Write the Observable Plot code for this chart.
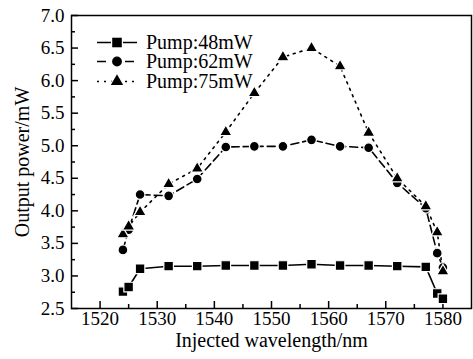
<!DOCTYPE html>
<html>
<head>
<meta charset="utf-8">
<script src="https://cdn.jsdelivr.net/npm/d3@7"></script>
<script src="https://cdn.jsdelivr.net/npm/@observablehq/plot@0.6"></script>
<style>
  body { margin: 0; background: #fff; }
  #wrap { position: relative; width: 473px; height: 359px; }
  #legend { position: absolute; left: 96px; top: 33px; font-family: "Liberation Serif", "Times New Roman", serif; font-size: 20px; color: #000; }
  .row { display: flex; align-items: center; height: 19.3px; }
  .row span { margin-left: 8px; line-height: 19px; display: inline-block; height: 19px; }
</style>
</head>
<body>
<div id="wrap">
  <div id="chart"></div>
  <div id="legend"></div>
</div>
<script>
const wavelengths = [1524, 1525, 1527, 1532, 1537, 1542, 1547, 1552, 1557, 1562, 1567, 1572, 1577, 1579, 1580];
const pump48 = [2.76, 2.83, 3.11, 3.15, 3.15, 3.16, 3.16, 3.16, 3.18, 3.16, 3.16, 3.15, 3.14, 2.73, 2.65];
const pump62 = [3.40, 3.71, 4.25, 4.23, 4.49, 4.98, 4.99, 4.99, 5.09, 4.99, 4.97, 4.43, 4.04, 3.35, 3.13];
const pump75 = [3.64, 3.76, 3.98, 4.41, 4.65, 5.21, 5.81, 6.36, 6.50, 6.22, 5.20, 4.50, 4.07, 3.67, 3.07];
const seriesNames = ["Pump:48mW", "Pump:62mW", "Pump:75mW"];
const xMajor = [1520, 1530, 1540, 1550, 1560, 1570, 1580];
const xMinor = [1525, 1535, 1545, 1555, 1565, 1575];
const yMajor = [2.5, 3.0, 3.5, 4.0, 4.5, 5.0, 5.5, 6.0, 6.5, 7.0];
const yMinor = [2.75, 3.25, 3.75, 4.25, 4.75, 5.25, 5.75, 6.25, 6.75];

const font = '"Liberation Serif", "Times New Roman", serif';
const W = 473, H = 359, mL = 71, mR = 2, mT = 15, mB = 51;
const plotW = W - mL - mR, plotH = H - mT - mB;

const styles = [
  {symbol: "square", r: 5.4, dash: null},
  {symbol: "circle", r: 4.9, dash: "8,4"},
  {symbol: "triangle", r: 4.6, dash: "2,5"}
];
const values = [pump48, pump62, pump75];
const tables = values.map((vals, i) => wavelengths.map((w, j) => ({w, v: vals[j], s: seriesNames[i]})));

const marks = [];
tables.forEach((t, i) => {
  marks.push(Plot.line(t, {x: "w", y: "v", stroke: "black", strokeWidth: 1.6, strokeDasharray: styles[i].dash}));
});
tables.forEach((t, i) => {
  marks.push(Plot.dot(t, {x: "w", y: "v", symbol: () => styles[i].symbol, r: styles[i].r, fill: "black", stroke: "white", strokeWidth: 1.2}));
});

const chart = Plot.plot({
  width: W, height: H,
  marginLeft: mL, marginRight: mR, marginTop: mT, marginBottom: mB,
  style: {fontFamily: font, background: "white", color: "black"},
  x: {domain: [1515, 1585]},
  y: {domain: [2.5, 7.0]},
  symbol: {domain: ["square", "circle", "triangle"], range: ["square", "circle", "triangle"]},
  marks: [
    Plot.axisX(xMajor, {tickSize: 0, tickPadding: 3, fontSize: 19, label: null, tickFormat: d => String(d)}),
    Plot.axisY(yMajor, {tickSize: 0, tickPadding: 7, fontSize: 19, label: null, tickFormat: d => d.toFixed(1)}),
    Plot.ruleX(xMajor, {x: d => d, stroke: "black", strokeWidth: 1.5, insetTop: plotH - 7}),
    Plot.ruleX(xMinor, {x: d => d, stroke: "black", strokeWidth: 1.5, insetTop: plotH - 4}),
    Plot.ruleY(yMajor, {y: d => d, stroke: "black", strokeWidth: 1.5, insetRight: plotW - 7}),
    Plot.ruleY(yMinor, {y: d => d, stroke: "black", strokeWidth: 1.5, insetRight: plotW - 4}),
    ...marks,
    Plot.frame({stroke: "black", strokeWidth: 1.5}),
    Plot.text(["Injected wavelength/nm"], {frameAnchor: "bottom", dy: 38, fontSize: 20, fill: "black"}),
    Plot.text(["Output power/mW"], {frameAnchor: "left", textAnchor: "middle", dx: -49, rotate: -90, fontSize: 20, fill: "black"})
  ]
});
document.getElementById("chart").appendChild(chart);

// legend overlay
const leg = d3.select("#legend");
seriesNames.forEach((name, i) => {
  const row = leg.append("div").attr("class", "row");
  const svg = row.append("svg").attr("width", 42).attr("height", 19);
  const line = svg.append("line").attr("x1", 1).attr("x2", 41).attr("y1", 9.5).attr("y2", 9.5)
    .attr("stroke", "black").attr("stroke-width", 1.6);
  if (i === 1) line.attr("stroke-dasharray", "9,5");
  if (i === 2) line.attr("stroke-dasharray", "2,5");
  const sym = d3.symbol().type(i === 0 ? d3.symbolSquare : i === 1 ? d3.symbolCircle : d3.symbolTriangle)
    .size(Math.PI * styles[i].r * styles[i].r);
  svg.append("path").attr("d", sym()).attr("transform", "translate(21,9.5)")
    .attr("fill", "black").attr("stroke", "white").attr("stroke-width", 2.5).attr("paint-order", "stroke");
  row.append("span").text(name);
});
</script>
</body>
</html>
